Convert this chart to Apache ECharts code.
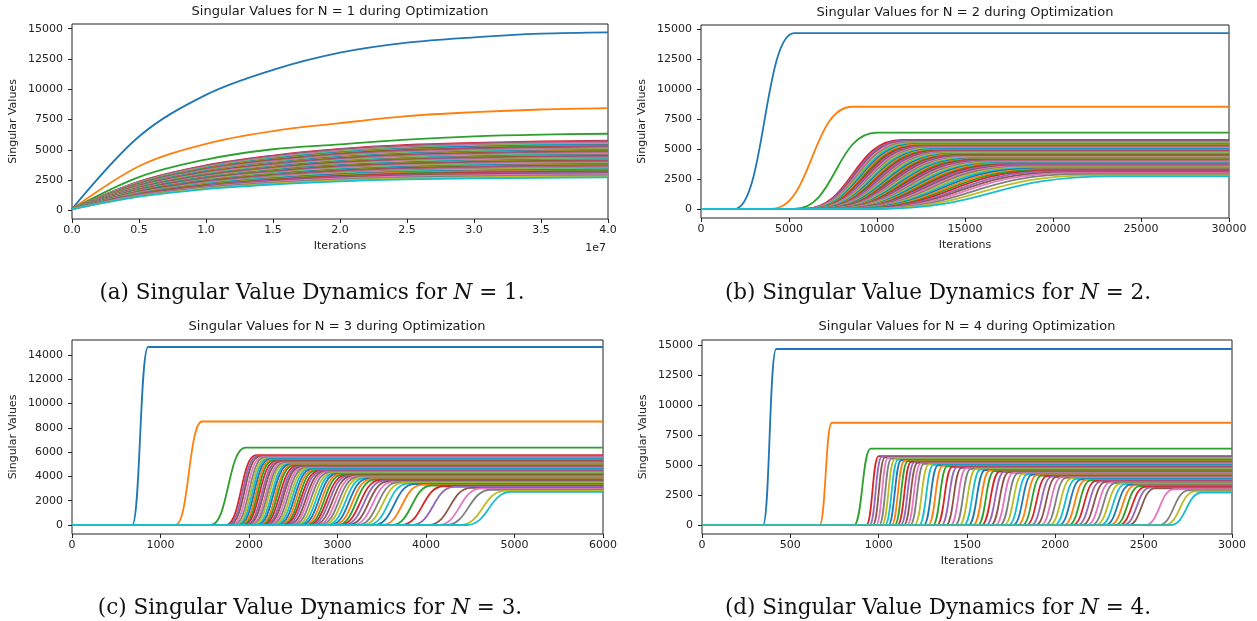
<!DOCTYPE html>
<html><head><meta charset="utf-8">
<script src="https://cdn.jsdelivr.net/npm/echarts@6/dist/echarts.min.js"></script>
<style>html,body{margin:0;padding:0;background:#fff}#c{width:1257px;height:621px}</style>
</head><body><div id="c"></div>
<script>
// matplotlib tab10 cycle
const colors = ['#1f77b4','#ff7f0e','#2ca02c','#d62728','#9467bd','#8c564b','#e377c2','#7f7f7f','#bcbd22','#17becf'];

// final (plateau) singular values, lines 0..69
const plateau = [14650, 8520, 6370,
  5750,5690,5640,5590,5540,5490,5450,5400,5355,5310,
  5265,5220,5180,5135,5095,5050,5010,4970,4930,4890,
  4850,4810,4770,4730,4690,4655,4615,4575,4540,4500,
  4460,4425,4385,4350,4310,4275,4235,4200,4160,4125,
  4085,4045,4010,3970,3930,3890,3850,3810,3770,3730,
  3690,3645,3600,3555,3510,3460,3410,3360,3305,3250,
  3190,3130,3060,2990,2900,2810,2720];

// ---- panel (a) N = 1 : values at these iterations
const aIter = [0, 5e6, 1e7, 1.5e7, 2e7, 2.5e7, 3e7, 3.5e7, 4e7];
const aBlue   = [110, 6100, 9540, 11600, 13020, 13850, 14290, 14590, 14700];
const aOrange = [100, 3650, 5500, 6550, 7200, 7780, 8110, 8330, 8440];
const aGreen  = [100, 2750, 4200, 5050, 5450, 5850, 6120, 6260, 6330];
// band lines (3..69) at 0, 0.5e7 ... 3.5e7 ; at 4e7 they sit on plateau
const aStart = 100;
const aBand05 = [2380,2360,2330,2310,2290,2270,2260,2240,2220,2200, 2180,2160,2140,2130,2110,2090,2070,2060,2040,2020, 2010,1990,1970,1960,1940,1930,1910,1890,1880,1860, 1850,1830,1820,1800,1780,1770,1750,1740,1720,1710, 1690,1670,1660,1640,1630,1610,1590,1580,1560,1540, 1530,1510,1490,1470,1450,1430,1410,1390,1370,1350, 1320,1300,1270,1240,1200,1160,1130];
const aBand10 = [3720,3680,3650,3620,3580,3550,3530,3490,3460,3440, 3410,3380,3350,3320,3300,3270,3240,3220,3190,3160, 3140,3110,3090,3060,3030,3010,2990,2960,2940,2910, 2890,2860,2840,2810,2790,2770,2740,2720,2690,2670, 2640,2620,2590,2570,2540,2520,2490,2470,2440,2410, 2390,2360,2330,2300,2270,2240,2210,2170,2140,2100, 2060,2030,1980,1930,1880,1820,1760];
const aBand15 = [4530,4480,4440,4400,4360,4320,4290,4250,4210,4180, 4140,4110,4080,4040,4010,3970,3940,3910,3880,3850, 3820,3790,3750,3720,3690,3660,3630,3600,3570,3540, 3510,3480,3450,3420,3390,3360,3330,3310,3270,3250, 3210,3180,3160,3120,3090,3060,3030,3000,2970,2940, 2900,2870,2830,2800,2760,2720,2680,2640,2600,2560, 2510,2460,2410,2350,2280,2210,2140];
const aBand20 = [5080,5030,4990,4940,4900,4850,4820,4770,4730,4690, 4650,4610,4580,4540,4500,4460,4430,4390,4360,4320, 4290,4250,4220,4180,4150,4120,4080,4040,4010,3980, 3940,3910,3880,3850,3810,3780,3740,3710,3680,3650, 3610,3580,3540,3510,3470,3440,3400,3370,3330,3300, 3260,3220,3180,3140,3100,3060,3010,2970,2920,2870, 2820,2770,2710,2640,2560,2480,2400];
const aBand25 = [5410,5350,5300,5250,5210,5160,5120,5080,5030,4990, 4950,4910,4870,4830,4790,4750,4710,4670,4630,4600, 4560,4520,4480,4450,4410,4380,4340,4300,4270,4230, 4190,4160,4120,4090,4050,4020,3980,3950,3910,3880, 3840,3800,3770,3730,3690,3660,3620,3580,3540,3510, 3470,3430,3380,3340,3300,3250,3210,3160,3110,3060, 3000,2940,2880,2810,2730,2640,2560];
const aBand30 = [5580,5520,5470,5420,5370,5330,5290,5240,5190,5150, 5110,5060,5020,4980,4940,4900,4860,4820,4780,4740, 4700,4670,4630,4590,4550,4520,4480,4440,4400,4370, 4330,4290,4250,4220,4180,4150,4110,4070,4040,4000, 3960,3920,3890,3850,3810,3770,3730,3700,3660,3620, 3580,3540,3490,3450,3400,3360,3310,3260,3210,3150, 3090,3040,2970,2900,2810,2730,2640];
const aBand35 = [5690,5630,5580,5530,5480,5440,5400,5350,5300,5260, 5210,5170,5130,5080,5040,5000,4960,4920,4880,4840, 4800,4760,4720,4680,4640,4610,4570,4530,4490,4460, 4420,4380,4340,4310,4270,4230,4190,4160,4120,4080, 4040,4000,3970,3930,3890,3850,3810,3770,3730,3690, 3650,3610,3560,3520,3470,3430,3380,3330,3270,3220, 3160,3100,3030,2960,2870,2780,2690];

// ---- panels (b)-(d): iteration where each curve leaves ~0 and where it reaches its plateau
const bStart = [1900,4000,5300, 5800,5840,5870,5900,5940,5970,6000,6040,6070,6100, 6130,6170,6200,6230,6270,6300,6340,6370,6400,6440, 6470,6500,6550,6580,6620,6650,6690,6730,6770,6800, 6840,6880,6920,6960,7000,7040,7080,7120,7160,7200, 7250,7300,7340,7390,7440,7500,7550,7610,7660,7720, 7780,7840,7910,7970,8040,8130,8210,8300,8390,8490, 8600,8730,8850,9000,9200,9450,9780];
const bEnd = [5300,8600,10000, 11400,11510,11610,11700,11810,11910,12000,12110,12200,12300, 12390,12500,12600,12690,12800,12900,13000,13110,13200,13300, 13410,13520,13640,13740,13850,13950,14070,14180,14300,14400, 14520,14640,14750,14870,14990,15110,15230,15360,15480,15600, 15740,15890,16020,16170,16320,16490,16650,16820,16980,17150, 17330,17520,17720,17910,18120,18380,18630,18900,19170,19460, 19800,20180,20550,21000,21590,22350,23330];
const cStart = [680,1170,1570, 1740,1760,1780,1805,1830,1850,1870,1890,1910,1930, 1940,1965,1985,2010,2030,2050,2075,2095,2120,2140, 2155,2180,2200,2225,2250,2275,2300,2325,2350,2375, 2390,2415,2445,2470,2500,2530,2560,2590,2620,2650, 2670,2700,2735,2770,2805,2840,2880,2920,2960,3000, 3030,3075,3125,3175,3230,3285,3345,3415,3505,3615, 3720,3840,4030,4140,4225,4385,4455];
const cEnd = [860,1470,1960, 2080,2100,2120,2145,2170,2190,2210,2230,2250,2270, 2300,2325,2345,2370,2390,2410,2435,2455,2480,2500, 2535,2560,2580,2605,2630,2655,2680,2705,2730,2755, 2790,2815,2845,2870,2900,2930,2960,2990,3020,3050, 3090,3120,3155,3190,3225,3260,3300,3340,3380,3420, 3480,3525,3575,3625,3680,3735,3795,3865,3955,4065, 4200,4320,4510,4620,4735,4895,4965];
const dStart = [345,665,860, 930,948,966,984,1002,1018,1036,1054,1072,1090, 1106,1124,1142,1160,1178,1202,1228,1254,1280,1306, 1329,1355,1381,1407,1433,1456,1482,1508,1534,1560, 1582,1608,1634,1660,1686,1708,1734,1760,1786,1812, 1835,1862,1889,1916,1943,1966,1993,2020,2047,2074, 2097,2124,2151,2178,2205,2228,2255,2282,2309,2336, 2358,2385,2412,2508,2584,2617,2651];
const dEnd = [420,735,955, 1000,1018,1036,1054,1072,1092,1110,1128,1146,1164, 1184,1202,1220,1238,1256,1284,1310,1336,1362,1388, 1417,1443,1469,1495,1521,1550,1576,1602,1628,1654, 1684,1710,1736,1762,1788,1818,1844,1870,1896,1922, 1953,1980,2007,2034,2061,2092,2119,2146,2173,2200, 2231,2258,2285,2312,2339,2370,2397,2424,2451,2478, 2510,2537,2564,2672,2756,2793,2831];
const initValue = 0;

// ---- tick labels
const yTicks15 = [0,2500,5000,7500,10000,12500,15000];
const yTicks14 = [0,2000,4000,6000,8000,10000,12000,14000];
const aXTicks = [0,5e6,1e7,1.5e7,2e7,2.5e7,3e7,3.5e7,4e7];
const bXTicks = [0,5000,10000,15000,20000,25000,30000];
const cXTicks = [0,1000,2000,3000,4000,5000,6000];
const dXTicks = [0,500,1000,1500,2000,2500,3000];
const panelNs = [1,2,3,4];
const panelLetters = ['a','b','c','d'];

const chart = echarts.init(document.getElementById('c'), null, {renderer:'canvas'});
const TXT = '#222';
const grids = [
  {left:72, top:24, width:536, height:195},
  {left:701, top:25, width:528, height:193},
  {left:72, top:340, width:531, height:194},
  {left:702, top:340, width:530, height:194}
].map(g => Object.assign({show:true, borderColor:'#222', borderWidth:1, backgroundColor:'transparent'}, g));

const xMax = [4e7, 30000, 6000, 3000];
const xTicks = [aXTicks, bXTicks, cXTicks, dXTicks];
const yRange = [[-710,15390],[-750,15333],[-741,15226],[-733,15400]];
const yTicks = [yTicks15, yTicks15, yTicks14, yTicks15];

const xAxes = [0,1,2,3].map(i => ({
  gridIndex:i, type:'value', min:0, max:xMax[i], position:'bottom',
  axisLine:{show:false, onZero:false},
  axisTick:{show:true, customValues:xTicks[i], length:4, lineStyle:{color:'#222', width:1}},
  axisLabel:{customValues:xTicks[i], fontSize:11, fontFamily:'DejaVu Sans', color:TXT, margin:6,
    formatter: i===0 ? (v => (v/1e7).toFixed(1)) : (v => String(v))},
  splitLine:{show:false},
  name:'Iterations', nameLocation:'middle', nameGap:22,
  nameTextStyle:{fontSize:11, fontFamily:'DejaVu Sans', color:TXT}
}));
const yAxes = [0,1,2,3].map(i => ({
  gridIndex:i, type:'value', min:yRange[i][0], max:yRange[i][1], position:'left',
  axisLine:{show:false, onZero:false},
  axisTick:{show:true, customValues:yTicks[i], length:4, lineStyle:{color:'#222', width:1}},
  axisLabel:{customValues:yTicks[i], fontSize:11, fontFamily:'DejaVu Sans', color:TXT, margin:9,
    formatter: v => String(v)},
  splitLine:{show:false},
  name:'Singular Values', nameLocation:'middle', nameGap:53,
  nameTextStyle:{fontSize:11, fontFamily:'DejaVu Sans', color:TXT}
}));

const series = [];
function addLine(gi, data, i, mono) {
  series.push({type:'line', xAxisIndex:gi, yAxisIndex:gi, data, symbol:'none', showSymbol:false,
    smooth: mono ? 0.5 : 0.35, smoothMonotone: mono ? 'x' : undefined, silent:true,
    lineStyle:{color:colors[i % 10], width:1.8}, emphasis:{disabled:true}});
}
const aTop = [aBlue, aOrange, aGreen];
for (let i = 0; i < plateau.length; i++) {
  const k = i - 3;
  const vals = i < 3 ? aTop[i] :
    [aStart, aBand05[k], aBand10[k], aBand15[k], aBand20[k], aBand25[k], aBand30[k], aBand35[k], plateau[i]];
  addLine(0, aIter.map((x, j) => [x, vals[j]]), i, false);
}
const starts = [bStart, cStart, dStart], ends = [bEnd, cEnd, dEnd];
for (let p = 0; p < 3; p++) {
  for (let i = 0; i < plateau.length; i++) {
    addLine(p+1, [[0, initValue], [starts[p][i], initValue], [ends[p][i], plateau[i]], [xMax[p+1], plateau[i]]], i, true);
  }
}

// titles and captions
const titleCenters = [[340,12],[965,13],[337,327],[967,327]];
const captionCenters = [[312,293],[938,293],[310,608],[938,608]];
const graphics = [];
for (let i = 0; i < 4; i++) {
  graphics.push({type:'text', x:titleCenters[i][0], y:titleCenters[i][1], silent:true,
    style:{text:'Singular Values for N = ' + panelNs[i] + ' during Optimization', fontSize:13, fontFamily:'DejaVu Sans',
      fill:'#1a1a1a', align:'center', verticalAlign:'middle'}});
  graphics.push({type:'text', x:captionCenters[i][0], y:captionCenters[i][1], silent:true,
    style:{text:'(' + panelLetters[i] + ') Singular Value Dynamics for {n|N} = ' + panelNs[i] + '.',
      fontSize:21.5, fontFamily:'DejaVu Serif', fill:'#111', align:'center', verticalAlign:'middle',
      rich:{n:{fontStyle:'italic', fontSize:21.5, fontFamily:'DejaVu Serif', fill:'#111'}}}});
}
graphics.push({type:'text', x:606, y:248, silent:true,
  style:{text:'1e7', fontSize:11, fontFamily:'DejaVu Sans', fill:TXT, align:'right', verticalAlign:'middle'}});

chart.setOption({
  animation:false,
  backgroundColor:'#fff',
  grid:grids, xAxis:xAxes, yAxis:yAxes, series, graphic:graphics
});
</script></body></html>
